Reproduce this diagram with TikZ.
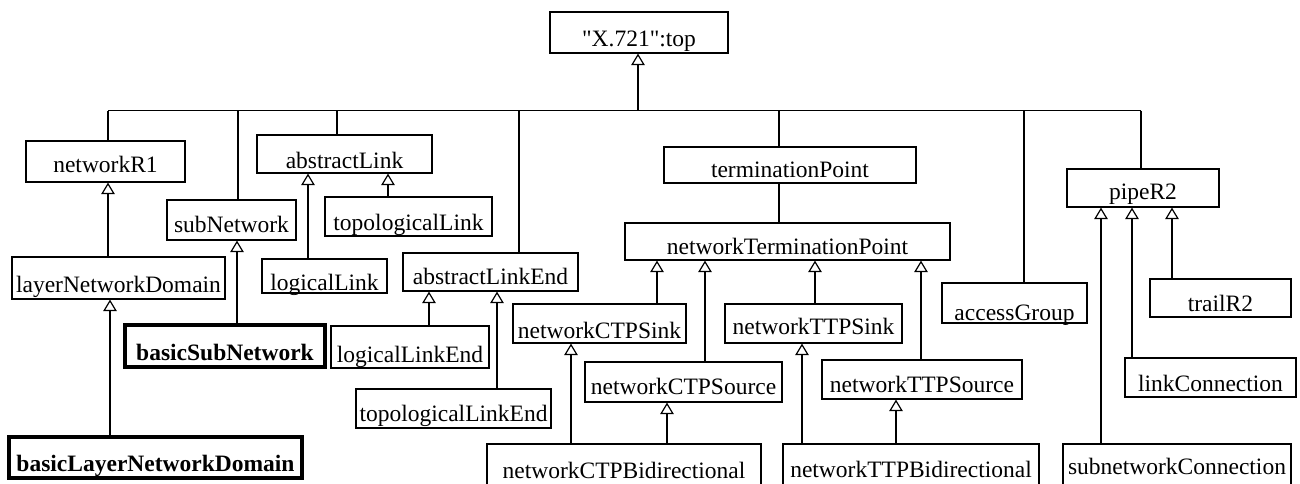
\documentclass[tikz,border=0pt]{standalone}
\usepackage{fontspec}
\setmainfont{Liberation Serif}[Ligatures=TeXOff]
\usetikzlibrary{arrows.meta}
\newcommand\dn[2]{\raisebox{-#1pt}{#2}}
\begin{document}
\begin{tikzpicture}[x=1pt,y=-1pt,
  box/.style={draw, line width=1.2pt, inner sep=0pt, text height=16pt, text depth=5pt,
    font=\fontsize{23.5}{28}\selectfont},
  bold box/.style={box, line width=4pt, font=\fontsize{23.5}{28}\selectfont\bfseries},
  inh/.style={line width=1.2pt, -{Triangle[open,length=11.5pt 0 0,width=13.5pt 0 0,fill=white]}},
  link/.style={line width=1.2pt}]
\useasboundingbox (0,0) rectangle (1300,483);

% nodes
\node[box, minimum width=178, minimum height=41] (top) at (639,32.5) {\dn{8.5}{"X.721":top}};
\node[box, minimum width=159, minimum height=41] (netR1) at (105.5,161.5) {\dn{5}{networkR1}};
\node[box, minimum width=175, minimum height=38] (absLink) at (344.5,154) {\dn{8.5}{abstractLink}};
\node[box, minimum width=129, minimum height=40] (subNet) at (231.5,220) {\dn{6.5}{subNetwork}};
\node[box, minimum width=167, minimum height=39] (topoLink) at (408.5,216.5) {\dn{8}{topologicalLink}};
\node[box, minimum width=213, minimum height=42] (layerND) at (118.5,278) {\dn{8.5}{layerNetworkDomain}};
\node[bold box, minimum width=200, minimum height=42] (basicSub) at (225,346) {\dn{8.5}{basicSubNetwork}};
\node[box, minimum width=125, minimum height=34] (logLink) at (324.5,276) {\dn{8.5}{logicalLink}};
\node[bold box, minimum width=293, minimum height=41] (basicLND) at (155.5,457.5) {\dn{8}{basicLayerNetworkDomain}};
\node[box, minimum width=175, minimum height=38] (absLE) at (490.5,272) {\dn{6.5}{abstractLinkEnd}};
\node[box, minimum width=158, minimum height=42] (logLE) at (410,347) {\dn{9.5}{logicalLinkEnd}};
\node[box, minimum width=195, minimum height=39] (topoLE) at (453.5,408.5) {\dn{7}{topologicalLinkEnd}};
\node[box, minimum width=252, minimum height=36] (termP) at (790,165) {\dn{6.5}{terminationPoint}};
\node[box, minimum width=325, minimum height=37] (NTP) at (787.5,241.5) {\dn{7}{networkTerminationPoint}};
\node[box, minimum width=173, minimum height=39] (CTPSink) at (599.5,323.5) {\dn{9}{networkCTPSink}};
\node[box, minimum width=197, minimum height=40] (CTPSource) at (683.5,382) {\dn{6.5}{networkCTPSource}};
\node[box, minimum width=177, minimum height=39] (TTPSink) at (813.5,323.5) {\dn{5}{networkTTPSink}};
\node[box, minimum width=200, minimum height=39] (TTPSource) at (922,379.5) {\dn{7}{networkTTPSource}};
\node[box, minimum width=274, minimum height=43] (CTPBi) at (624,465.5) {\dn{7.5}{networkCTPBidirectional}};
\node[box, minimum width=256, minimum height=43] (TTPBi) at (911,465.5) {\dn{6.5}{networkTTPBidirectional}};
\node[box, minimum width=145, minimum height=40] (access) at (1014.5,303) {\dn{11.5}{accessGroup}};
\node[box, minimum width=152, minimum height=38] (pipe) at (1143,188) {\dn{5.5}{pipeR2}};
\node[box, minimum width=141, minimum height=38] (trail) at (1220.5,298) {\dn{7.5}{trailR2}};
\node[box, minimum width=171, minimum height=39] (linkConn) at (1210.5,377.5) {\dn{8}{linkConnection}};
\node[box, minimum width=228, minimum height=43] (subConn) at (1177,465.5) {\dn{3.5}{subnetworkConnection}};

% bus to top
\coordinate (busL) at (108,110.7);
\coordinate (busR) at (1141,110.7);
\coordinate (busT) at (638,110.7);
\draw[link] (busL) -- (busR);
\draw[inh] (busT) -- (top.south -| busT);
\draw[link] (busL) -- (netR1.north -| busL);
\draw[link] (238,110.7) -- (subNet.north -| 238,0);
\draw[link] (337,110.7) -- (absLink.north -| 337,0);
\draw[link] (519,110.7) -- (absLE.north -| 519,0);
\draw[link] (779,110.7) -- (termP.north -| 779,0);
\draw[link] (1024,110.7) -- (access.north -| 1024,0);
\draw[link] (busR) -- (pipe.north -| busR);

% inheritance
\draw[inh] (layerND.north -| 108,0) -- (netR1.south -| 108,0);
\draw[inh] (basicLND.north -| 110,0) -- (layerND.south -| 110,0);
\draw[inh] (basicSub.north -| 237,0) -- (subNet.south -| 237,0);
\draw[inh] (logLink.north -| 308,0) -- (absLink.south -| 308,0);
\draw[inh] (topoLink.north -| 388,0) -- (absLink.south -| 388,0);
\draw[inh] (logLE.north -| 429,0) -- (absLE.south -| 429,0);
\draw[inh] (topoLE.north -| 497,0) -- (absLE.south -| 497,0);
\draw[link] (termP.south -| 779,0) -- (NTP.north -| 779,0);
\draw[inh] (CTPSink.north -| 657,0) -- (NTP.south -| 657,0);
\draw[inh] (CTPSource.north -| 705,0) -- (NTP.south -| 705,0);
\draw[inh] (TTPSink.north -| 815,0) -- (NTP.south -| 815,0);
\draw[inh] (TTPSource.north -| 921,0) -- (NTP.south -| 921,0);
\draw[inh] (CTPBi.north -| 571,0) -- (CTPSink.south -| 571,0);
\draw[inh] (CTPBi.north -| 667,0) -- (CTPSource.south -| 667,0);
\draw[inh] (TTPBi.north -| 802,0) -- (TTPSink.south -| 802,0);
\draw[inh] (TTPBi.north -| 896,0) -- (TTPSource.south -| 896,0);
\draw[inh] (subConn.north -| 1101,0) -- (pipe.south -| 1101,0);
\draw[inh] (linkConn.north -| 1132,0) -- (pipe.south -| 1132,0);
\draw[inh] (trail.north -| 1172,0) -- (pipe.south -| 1172,0);
\end{tikzpicture}
\end{document}
